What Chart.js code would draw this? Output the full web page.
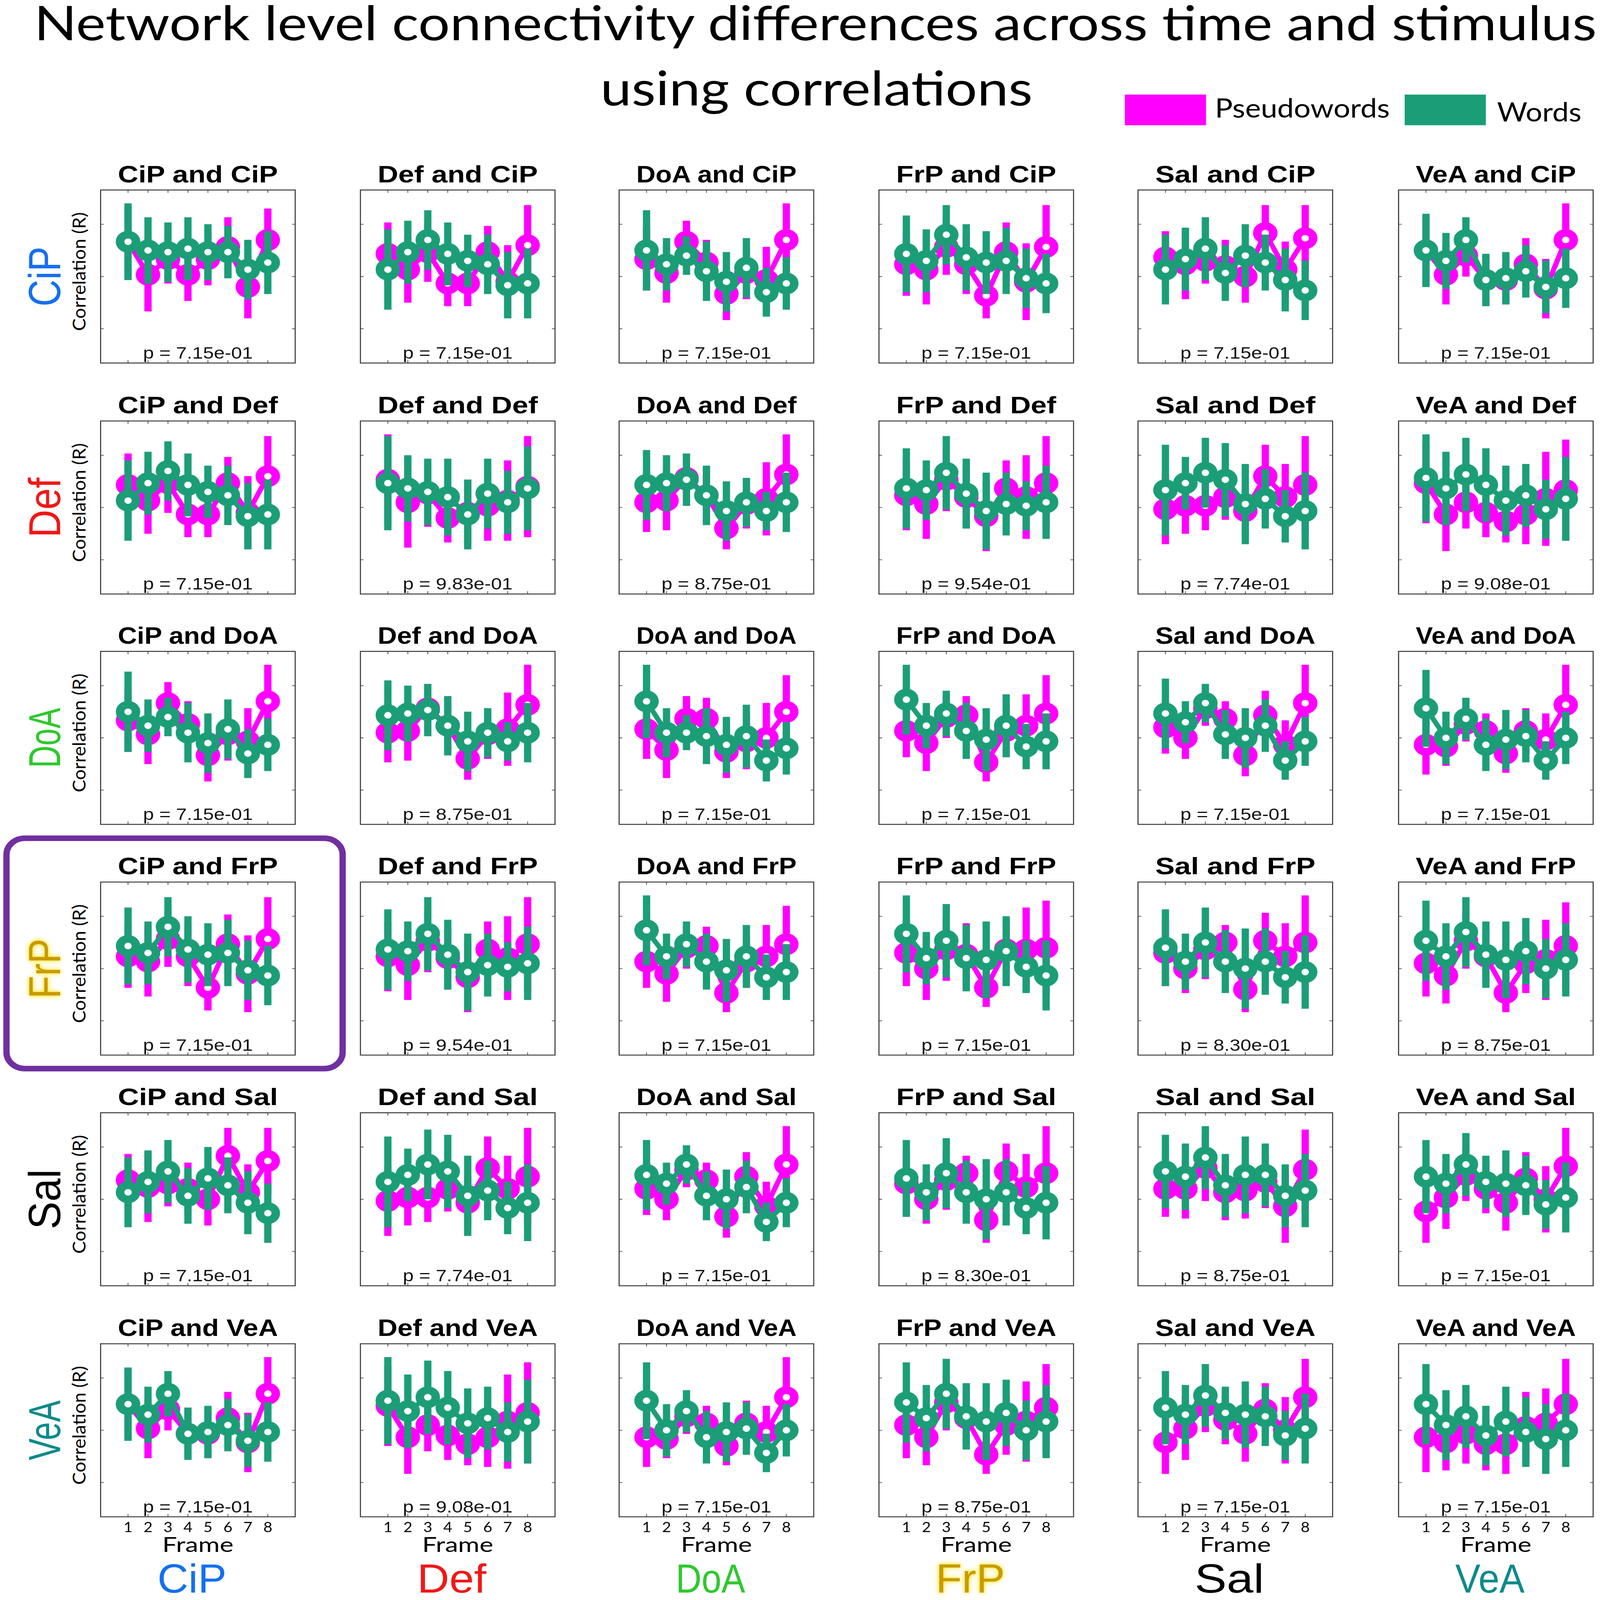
<!DOCTYPE html>
<html lang="en">
<head>
  <meta charset="UTF-8">
  <title>Network level connectivity differences across time and stimulus using correlations</title>
  <script src="https://cdn.jsdelivr.net/npm/chart.js"></script>
  <style>
    html, body {
      margin: 0;
      padding: 0;
      background: #fff;
      overflow: hidden;
    }
    #stage {
      position: relative;
      width: 4317px;
      height: 4855px;
      background: #fff;
      overflow: hidden;
      transform-origin: 0 0;
    }
    .lbl {
      position: absolute;
      white-space: nowrap;
      line-height: 1;
      color: #000;
    }
    .panel {
      position: absolute;
    }
    .panel canvas {
      display: block;
    }
    .swatch {
      position: absolute;
    }
    #highlight {
      position: absolute;
      left: 9px;
      top: 2535px;
      width: 924px;
      height: 716px;
      box-sizing: border-box;
      border: 17px solid #7030a0;
      border-radius: 58px;
    }
  </style>
</head>
<body>
  <div id="stage">
    <div id="highlight"></div>
  </div>

  <script>
    // Networks (column = first name in the panel title, row = second)
    const networks = ['CiP', 'Def', 'DoA', 'FrP', 'Sal', 'VeA'];
    const netColors = ['#1470f0', '#f01818', '#2ec82e', '#c89b00', '#000000', '#0f8a8a'];
    const frames = [1, 2, 3, 4, 5, 6, 7, 8];

    // The matrix is symmetric: one row per network pair, upper triangle, row-major
    // CiP-CiP, CiP-Def, CiP-DoA, CiP-FrP, CiP-Sal, CiP-VeA, Def-Def, Def-DoA, ... VeA-VeA
    // values are read off the picture (no tick labels on the y axes)
    const wordsMean = [
      [0.70, 0.65, 0.64, 0.66, 0.64, 0.64, 0.54, 0.58],
      [0.54, 0.64, 0.71, 0.63, 0.59, 0.57, 0.45, 0.46],
      [0.65, 0.57, 0.62, 0.53, 0.47, 0.55, 0.41, 0.46],
      [0.63, 0.59, 0.74, 0.61, 0.58, 0.59, 0.49, 0.46],
      [0.54, 0.60, 0.66, 0.52, 0.62, 0.58, 0.48, 0.42],
      [0.65, 0.59, 0.71, 0.48, 0.49, 0.53, 0.44, 0.49],
      [0.64, 0.61, 0.59, 0.56, 0.46, 0.58, 0.53, 0.61],
      [0.63, 0.64, 0.66, 0.57, 0.48, 0.53, 0.48, 0.53],
      [0.61, 0.60, 0.70, 0.58, 0.48, 0.52, 0.51, 0.53],
      [0.60, 0.64, 0.70, 0.66, 0.52, 0.55, 0.45, 0.48],
      [0.67, 0.61, 0.69, 0.63, 0.54, 0.57, 0.49, 0.55],
      [0.71, 0.53, 0.53, 0.51, 0.46, 0.51, 0.37, 0.44],
      [0.72, 0.57, 0.64, 0.54, 0.49, 0.57, 0.45, 0.48],
      [0.64, 0.59, 0.70, 0.52, 0.50, 0.57, 0.37, 0.48],
      [0.67, 0.50, 0.61, 0.46, 0.49, 0.51, 0.37, 0.50],
      [0.70, 0.56, 0.66, 0.56, 0.55, 0.60, 0.51, 0.46],
      [0.62, 0.54, 0.65, 0.54, 0.50, 0.54, 0.45, 0.48],
      [0.66, 0.57, 0.71, 0.58, 0.55, 0.60, 0.50, 0.55],
      [0.66, 0.63, 0.74, 0.58, 0.64, 0.64, 0.52, 0.55],
      [0.63, 0.59, 0.70, 0.60, 0.59, 0.58, 0.47, 0.51],
      [0.65, 0.53, 0.58, 0.47, 0.55, 0.49, 0.45, 0.50]
    ];
    const wordsErr = [
      [0.22, 0.19, 0.17, 0.18, 0.16, 0.15, 0.17, 0.18],
      [0.23, 0.18, 0.17, 0.18, 0.15, 0.17, 0.19, 0.20],
      [0.23, 0.15, 0.11, 0.17, 0.17, 0.17, 0.14, 0.15],
      [0.22, 0.18, 0.17, 0.19, 0.18, 0.19, 0.17, 0.17],
      [0.20, 0.18, 0.18, 0.16, 0.18, 0.16, 0.18, 0.17],
      [0.21, 0.16, 0.13, 0.15, 0.15, 0.15, 0.15, 0.17],
      [0.27, 0.19, 0.19, 0.22, 0.20, 0.20, 0.18, 0.24],
      [0.20, 0.16, 0.15, 0.17, 0.17, 0.14, 0.11, 0.17],
      [0.23, 0.17, 0.21, 0.20, 0.22, 0.18, 0.14, 0.21],
      [0.26, 0.15, 0.20, 0.21, 0.23, 0.17, 0.15, 0.22],
      [0.25, 0.21, 0.21, 0.21, 0.20, 0.18, 0.17, 0.24],
      [0.21, 0.14, 0.10, 0.16, 0.16, 0.18, 0.12, 0.15],
      [0.20, 0.13, 0.13, 0.16, 0.18, 0.18, 0.13, 0.16],
      [0.20, 0.12, 0.11, 0.14, 0.17, 0.15, 0.11, 0.14],
      [0.22, 0.15, 0.12, 0.15, 0.17, 0.15, 0.11, 0.15],
      [0.22, 0.15, 0.21, 0.19, 0.22, 0.20, 0.15, 0.20],
      [0.22, 0.16, 0.20, 0.18, 0.23, 0.19, 0.15, 0.21],
      [0.23, 0.19, 0.20, 0.19, 0.22, 0.19, 0.17, 0.21],
      [0.21, 0.19, 0.18, 0.18, 0.22, 0.18, 0.18, 0.21],
      [0.21, 0.17, 0.18, 0.15, 0.19, 0.17, 0.14, 0.20],
      [0.23, 0.20, 0.18, 0.17, 0.20, 0.20, 0.20, 0.21]
    ];
    const pseudoMean = [
      [0.70, 0.51, 0.60, 0.51, 0.60, 0.67, 0.44, 0.71],
      [0.63, 0.54, 0.64, 0.46, 0.46, 0.64, 0.47, 0.68],
      [0.60, 0.52, 0.70, 0.58, 0.40, 0.52, 0.48, 0.71],
      [0.57, 0.54, 0.67, 0.57, 0.39, 0.64, 0.47, 0.67],
      [0.61, 0.57, 0.59, 0.56, 0.50, 0.75, 0.54, 0.72],
      [0.65, 0.51, 0.62, 0.48, 0.48, 0.57, 0.43, 0.71],
      [0.66, 0.53, 0.58, 0.44, 0.47, 0.51, 0.54, 0.62],
      [0.53, 0.54, 0.67, 0.57, 0.38, 0.52, 0.55, 0.69],
      [0.57, 0.52, 0.66, 0.56, 0.45, 0.61, 0.56, 0.64],
      [0.49, 0.51, 0.51, 0.56, 0.48, 0.68, 0.56, 0.63],
      [0.64, 0.46, 0.53, 0.47, 0.42, 0.46, 0.55, 0.60],
      [0.55, 0.43, 0.61, 0.61, 0.42, 0.48, 0.50, 0.65],
      [0.54, 0.47, 0.62, 0.63, 0.36, 0.54, 0.57, 0.64],
      [0.56, 0.50, 0.67, 0.61, 0.40, 0.63, 0.46, 0.70],
      [0.46, 0.45, 0.58, 0.54, 0.41, 0.54, 0.49, 0.69],
      [0.59, 0.50, 0.61, 0.58, 0.39, 0.61, 0.61, 0.62],
      [0.59, 0.50, 0.61, 0.65, 0.38, 0.66, 0.57, 0.65],
      [0.53, 0.46, 0.66, 0.57, 0.36, 0.53, 0.55, 0.63],
      [0.56, 0.56, 0.68, 0.54, 0.55, 0.60, 0.46, 0.67],
      [0.43, 0.51, 0.64, 0.56, 0.48, 0.62, 0.50, 0.69],
      [0.46, 0.43, 0.48, 0.42, 0.42, 0.52, 0.54, 0.65]
    ];
    const pseudoErr = [
      [0.20, 0.21, 0.14, 0.15, 0.15, 0.17, 0.18, 0.18],
      [0.18, 0.19, 0.17, 0.13, 0.13, 0.15, 0.21, 0.23],
      [0.18, 0.17, 0.12, 0.13, 0.15, 0.15, 0.19, 0.21],
      [0.18, 0.20, 0.16, 0.17, 0.13, 0.17, 0.22, 0.24],
      [0.15, 0.20, 0.13, 0.15, 0.15, 0.16, 0.16, 0.19],
      [0.20, 0.17, 0.12, 0.14, 0.14, 0.15, 0.17, 0.21],
      [0.26, 0.26, 0.19, 0.14, 0.19, 0.20, 0.23, 0.29],
      [0.17, 0.17, 0.14, 0.16, 0.12, 0.14, 0.21, 0.23],
      [0.20, 0.20, 0.18, 0.18, 0.20, 0.16, 0.24, 0.27],
      [0.20, 0.16, 0.14, 0.13, 0.15, 0.18, 0.19, 0.28],
      [0.23, 0.21, 0.15, 0.14, 0.12, 0.17, 0.27, 0.29],
      [0.17, 0.16, 0.13, 0.12, 0.15, 0.16, 0.20, 0.21],
      [0.15, 0.16, 0.12, 0.11, 0.11, 0.15, 0.18, 0.22],
      [0.15, 0.12, 0.10, 0.10, 0.12, 0.14, 0.14, 0.22],
      [0.17, 0.11, 0.10, 0.10, 0.11, 0.13, 0.15, 0.23],
      [0.19, 0.18, 0.18, 0.18, 0.11, 0.17, 0.24, 0.27],
      [0.19, 0.14, 0.17, 0.10, 0.13, 0.16, 0.19, 0.27],
      [0.19, 0.16, 0.16, 0.15, 0.11, 0.17, 0.23, 0.25],
      [0.16, 0.17, 0.19, 0.16, 0.16, 0.15, 0.21, 0.23],
      [0.18, 0.18, 0.15, 0.14, 0.16, 0.15, 0.19, 0.22],
      [0.20, 0.16, 0.17, 0.15, 0.17, 0.20, 0.20, 0.26]
    ];
    const pValues = [
      '7.15e-01', '7.15e-01', '7.15e-01', '7.15e-01', '7.15e-01', '7.15e-01',
      '9.83e-01', '8.75e-01', '9.54e-01', '7.74e-01', '9.08e-01',
      '7.15e-01', '7.15e-01', '7.15e-01', '7.15e-01',
      '7.15e-01', '8.30e-01', '8.75e-01',
      '8.75e-01', '7.15e-01',
      '7.15e-01'
    ];

    const PSEUDO = '#ff00ff';
    const WORDS = '#1b9e77';

    // page geometry (pixels of the 4317 x 4855 figure)
    const PAGE_W = 4317;
    const PAGE_H = 4855;
    const boxLeft = [270, 971, 1669, 2370, 3069, 3772];
    const boxTop = [575, 1276, 1975, 2675, 3375, 4076];
    const BOX = 528;
    const yTickMarks = [0.2, 0.5, 0.8];

    const stage = document.getElementById('stage');

    function tri(i, j) {
      return i * 6 - (i * (i - 1)) / 2 + (j - i);
    }

    function label(text, cx, cy, style, opts = {}) {
      const d = document.createElement('div');
      d.className = 'lbl';
      d.textContent = text;
      Object.assign(d.style, { left: cx + 'px', top: cy + 'px' }, style);
      stage.appendChild(d);
      let tf = 'translate(-50%, -50%)';
      if (opts.rotate) tf += ' rotate(' + opts.rotate + 'deg)';
      if (opts.width) tf += ' scaleX(' + (opts.width / d.offsetWidth) + ')';
      d.style.transform = tf;
      return d;
    }

    // box around each axes with inward tick marks, like the original figure
    const frameBox = {
      id: 'frameBox',
      afterDatasetsDraw(chart) {
        const { ctx, chartArea: a, scales } = chart;
        ctx.save();
        ctx.strokeStyle = '#404040';
        ctx.lineWidth = 3;
        ctx.strokeRect(a.left + 1.5, a.top + 1.5, a.width - 3, a.height - 3);
        ctx.lineWidth = 2;
        ctx.beginPath();
        frames.forEach(f => {
          const x = scales.x.getPixelForValue(f);
          ctx.moveTo(x, a.top); ctx.lineTo(x, a.top + 10);
          ctx.moveTo(x, a.bottom); ctx.lineTo(x, a.bottom - 10);
        });
        yTickMarks.forEach(v => {
          const y = scales.y.getPixelForValue(v);
          ctx.moveTo(a.left, y); ctx.lineTo(a.left + 10, y);
          ctx.moveTo(a.right, y); ctx.lineTo(a.right - 10, y);
        });
        ctx.stroke();
        ctx.restore();
      }
    };

    function errorBars(mean, err, color, order) {
      return {
        type: 'bar',
        data: frames.map((f, i) => ({ x: f, y: [mean[i] - err[i], mean[i] + err[i]] })),
        backgroundColor: color,
        borderWidth: 0,
        barThickness: 19,
        maxBarThickness: 19,
        grouped: false,
        order: order
      };
    }

    function meanLine(mean, color, order) {
      return {
        type: 'line',
        data: frames.map((f, i) => ({ x: f, y: mean[i] })),
        borderColor: color,
        borderWidth: 14,
        pointRadius: 21.5,
        pointHoverRadius: 21.5,
        pointBorderWidth: 23,
        pointBorderColor: color,
        pointBackgroundColor: '#ffffff',
        tension: 0,
        order: order
      };
    }

    function makePanel(r, c) {
      const k = tri(Math.min(r, c), Math.max(r, c));
      const bottomRow = r === networks.length - 1;
      const h = BOX + (bottomRow ? 70 : 0);

      const wrap = document.createElement('div');
      wrap.className = 'panel';
      wrap.style.left = boxLeft[c] + 'px';
      wrap.style.top = boxTop[r] + 'px';
      const canvas = document.createElement('canvas');
      canvas.width = BOX;
      canvas.height = h;
      wrap.appendChild(canvas);
      stage.appendChild(wrap);

      const xScale = {
        type: 'linear',
        min: -0.4,
        max: 9.4,
        offset: false,
        display: bottomRow,
        grid: { display: false, drawTicks: false },
        border: { display: false },
        ticks: {
          color: '#000',
          padding: 6,
          maxRotation: 0,
          font: { family: 'Lato', size: 42 }
        },
        afterBuildTicks: s => { s.ticks = frames.map(v => ({ value: v })); }
      };
      if (bottomRow) {
        xScale.afterFit = s => { s.height = 70; };
      }

      new Chart(canvas, {
        type: 'bar',
        data: {
          datasets: [
            errorBars(pseudoMean[k], pseudoErr[k], PSEUDO, 4),
            meanLine(pseudoMean[k], PSEUDO, 3),
            errorBars(wordsMean[k], wordsErr[k], WORDS, 2),
            meanLine(wordsMean[k], WORDS, 1)
          ]
        },
        options: {
          responsive: false,
          devicePixelRatio: 1,
          animation: false,
          events: [],
          layout: { padding: 0, autoPadding: false },
          scales: {
            x: xScale,
            y: {
              type: 'linear',
              min: 0,
              max: 1,
              display: false
            }
          },
          plugins: {
            legend: { display: false },
            tooltip: { enabled: false }
          }
        },
        plugins: [frameBox]
      });

      const cx = boxLeft[c] + BOX / 2;
      label(networks[c] + ' and ' + networks[r], cx, boxTop[r] - 47,
        { font: 'bold 72px "Liberation Sans", Arial, sans-serif' }, { width: 432 });
      label('p = ' + pValues[k], cx, boxTop[r] + BOX - 32,
        { font: '50px "Liberation Sans", Arial, sans-serif', color: '#111' }, { width: 296 });
      if (c === 0) {
        label('Correlation  (R)', 212, boxTop[r] + BOX / 2 - 15,
          { font: '48px Lato, sans-serif' }, { rotate: -90, width: 361 });
      }
      if (bottomRow) {
        label('Frame', cx, 4685, { font: '62px Lato, sans-serif' }, { width: 192 });
      }
    }

    for (let r = 0; r < networks.length; r++) {
      for (let c = 0; c < networks.length; c++) {
        makePanel(r, c);
      }
    }

    // network names: rows on the left, columns at the bottom
    networks.forEach((n, i) => {
      const style = { font: '122px "Liberation Sans", Arial, sans-serif', color: netColors[i] };
      if (n === 'FrP') {
        style.textShadow = '0 0 10px #ffe94a, 0 0 18px #ffe94a, 0 0 4px #fff07a';
      }
      label(n, 120, boxTop[i] + BOX / 2, style, { rotate: -90, width: 182 });
      label(n, boxLeft[i] + BOX / 2 - 16, 4791, style, { width: 187 });
    });

    // figure title
    label('Network level connectivity differences across time and stimulus', 2200, 67,
      { font: '144px Lato, sans-serif' }, { width: 4216 });
    label('using correlations', 2203, 265,
      { font: '144px Lato, sans-serif' }, { width: 1166 });

    // legend
    function swatch(color, left, top, w, h) {
      const s = document.createElement('div');
      s.className = 'swatch';
      Object.assign(s.style, { left: left + 'px', top: top + 'px', width: w + 'px', height: h + 'px', background: color });
      stage.appendChild(s);
    }
    swatch(PSEUDO, 3035, 287, 219, 93);
    label('Pseudowords', 3278 + 236, 326, { font: '80px Lato, sans-serif' }, { width: 472 });
    swatch(WORDS, 3790, 287, 219, 93);
    label('Words', 4039 + 114, 338, { font: '80px Lato, sans-serif' }, { width: 228 });

    // the browser window may be smaller than the figure: fit the whole figure into it
    const sx = window.innerWidth / PAGE_W;
    const sy = window.innerHeight / PAGE_H;
    if (Math.abs(sx - 1) > 0.001 || Math.abs(sy - 1) > 0.001) {
      stage.style.transform = 'scale(' + sx + ', ' + sy + ')';
    }
  </script>
</body>
</html>
